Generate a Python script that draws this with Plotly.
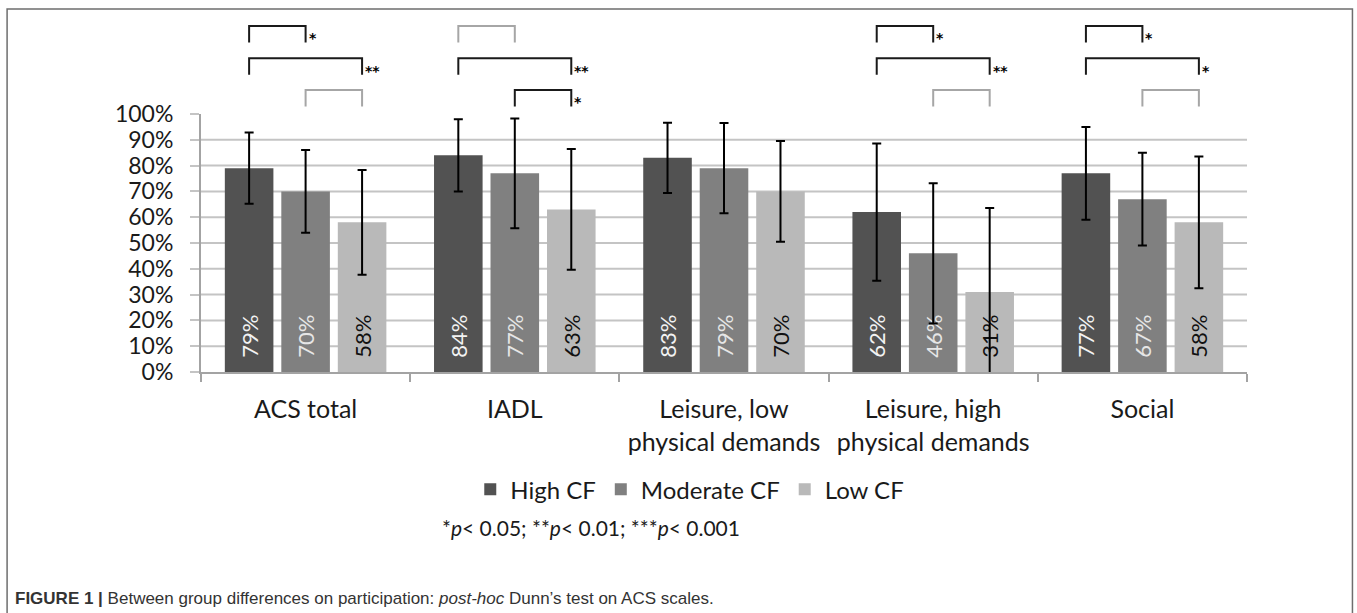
import plotly.graph_objects as go

# ---------------- data ----------------
categories = ["ACS total", "IADL", "Leisure, low<br>physical demands",
              "Leisure, high<br>physical demands", "Social"]
groups = ["High CF", "Moderate CF", "Low CF"]
high_cf = [79, 84, 83, 62, 77]
moderate_cf = [70, 77, 79, 46, 67]
low_cf = [58, 63, 70, 31, 58]
high_sd = [13.8, 14.0, 13.6, 26.6, 18.0]
moderate_sd = [16.0, 21.3, 17.5, 27.2, 18.0]
low_sd = [20.3, 23.4, 19.5, 32.6, 25.5]
y_ticks = [0, 10, 20, 30, 40, 50, 60, 70, 80, 90, 100]
y_ticktext = ["0%", "10%", "20%", "30%", "40%", "50%", "60%", "70%", "80%", "90%", "100%"]

# post-hoc comparisons: (category index, row, group a, group b, significant, stars)
brackets = [
    (0, 0, 0, 1, True, "*"), (0, 1, 0, 2, True, "**"), (0, 2, 1, 2, False, ""),
    (1, 0, 0, 1, False, ""), (1, 1, 0, 2, True, "**"), (1, 2, 1, 2, True, "*"),
    (3, 0, 0, 1, True, "*"), (3, 1, 0, 2, True, "**"), (3, 2, 1, 2, False, ""),
    (4, 0, 0, 1, True, "*"), (4, 1, 0, 2, True, "*"), (4, 2, 1, 2, False, ""),
]

# ---------------- style ----------------
W, H = 1357, 613
L, R, T, B = 201, 1247.5, 114, 372.3
FONT = "Lato, Open Sans, sans-serif"
bar_colors = ["#525252", "#808080", "#b9b9b9"]
label_colors = ["#f2f2f2", "#e6e6e6", "#111111"]
grid_color = "#c4c4c4"
axis_color = "#a3a3a3"
BARGAP, BARGROUPGAP = 0.19, 0.14
NBSP = "\u00a0"


def px_x(X):
    return (X - L) / (R - L)


def px_y(Y):
    return (B - Y) / (B - T)


fig = go.Figure()
for g, vals, sds, col, lc in zip(groups, [high_cf, moderate_cf, low_cf],
                                 [high_sd, moderate_sd, low_sd], bar_colors, label_colors):
    fig.add_trace(go.Bar(
        name=g, x=categories, y=vals,
        marker=dict(color=col, line=dict(width=0)),
        error_y=dict(type="data", array=sds, visible=True, color="#000000",
                     thickness=2, width=4.5),
        text=[f"{NBSP}{NBSP}{v}%" for v in vals],
        textposition="inside", insidetextanchor="start", textangle=-90,
        textfont=dict(family=FONT, size=22, color=lc),
        cliponaxis=True,
        hoverinfo="skip",
    ))

shapes = []
# horizontal gridlines (10%..90%)
for v in y_ticks[1:-1]:
    shapes.append(dict(type="line", xref="paper", yref="y", x0=0, x1=1, y0=v, y1=v,
                       line=dict(color=grid_color, width=2), layer="below"))

# brackets
slot = (1 - BARGAP) / 3
row_top = [26, 58.3, 90]
leg = 16.5
annotations = []
for ci, row, a, b, sig, stars in brackets:
    xa = ci + (a - 1) * slot
    xb = ci + (b - 1) * slot
    yt = px_y(row_top[row])
    yb = px_y(row_top[row] + leg)
    col = "#1a1a1a" if sig else "#a6a6a6"
    shapes.append(dict(type="path", xref="x", yref="paper",
                       path=f"M{xa},{yb} L{xa},{yt} L{xb},{yt} L{xb},{yb}",
                       line=dict(color=col, width=2)))
    if stars:
        annotations.append(dict(x=xb, xref="x", y=px_y(row_top[row] + leg * 0.75), yref="paper",
                                text=f"<b>{stars}</b>", showarrow=False, xanchor="left",
                                yanchor="middle", xshift=1,
                                font=dict(family="DejaVu Sans, sans-serif", size=14,
                                          color="#000000")))

# outer frame
shapes.append(dict(type="rect", xref="paper", yref="paper",
                   x0=px_x(7), x1=px_x(1353), y0=px_y(660), y1=px_y(9),
                   line=dict(color="#6e6e6e", width=1.5), layer="below"))

# footnote and caption
annotations.append(dict(x=px_x(591), xref="paper", y=px_y(528), yref="paper",
                        text="*<i>p</i>< 0.05; **<i>p</i>< 0.01; ***<i>p</i>< 0.001",
                        showarrow=False, xanchor="center", yanchor="middle",
                        font=dict(family=FONT, size=21, color="#1a1a1a")))
annotations.append(dict(x=px_x(13), xref="paper", y=px_y(599), yref="paper",
                        text="<b>FIGURE 1 |</b> Between group differences on participation: "
                             "<i>post-hoc</i> Dunn’s test on ACS scales.",
                        showarrow=False, xanchor="left", yanchor="middle",
                        font=dict(family="Liberation Sans, Arial, sans-serif",
                                  size=17, color="#333333")))

fig.update_layout(
    width=W, height=H, autosize=False,
    margin=dict(l=L, r=W - R, t=T, b=H - B, pad=0),
    paper_bgcolor="white", plot_bgcolor="white",
    barmode="group", bargap=BARGAP, bargroupgap=BARGROUPGAP,
    font=dict(family=FONT, size=22, color="#1a1a1a"),
    showlegend=True,
    legend=dict(orientation="h", x=px_x(690), xanchor="center", y=px_y(490), yanchor="middle",
                font=dict(family=FONT, size=24, color="#1a1a1a"),
                itemclick=False, itemdoubleclick=False, traceorder="normal"),
    shapes=shapes, annotations=annotations,
    xaxis=dict(type="category", showline=True, linecolor=axis_color, linewidth=2,
               ticks="outside", tickson="boundaries", ticklen=8, tickcolor=axis_color,
               tickwidth=2, showgrid=False, tickfont=dict(family=FONT, size=25, color="#1a1a1a"),
               ticklabelstandoff=14, range=[-0.5, 4.5], fixedrange=True),
    yaxis=dict(range=[0, 100], tickvals=y_ticks, ticktext=y_ticktext, showgrid=False,
               showline=True, linecolor=axis_color, linewidth=2, ticks="outside",
               ticklen=9, tickcolor=grid_color, tickwidth=2, zeroline=False,
               ticklabelstandoff=12,
               tickfont=dict(family=FONT, size=23, color="#1a1a1a"), fixedrange=True),
)

fig.write_html("out.html", config={"displayModeBar": False, "staticPlot": True},
               post_script="document.body.style.margin='0';document.body.style.padding='0';")
